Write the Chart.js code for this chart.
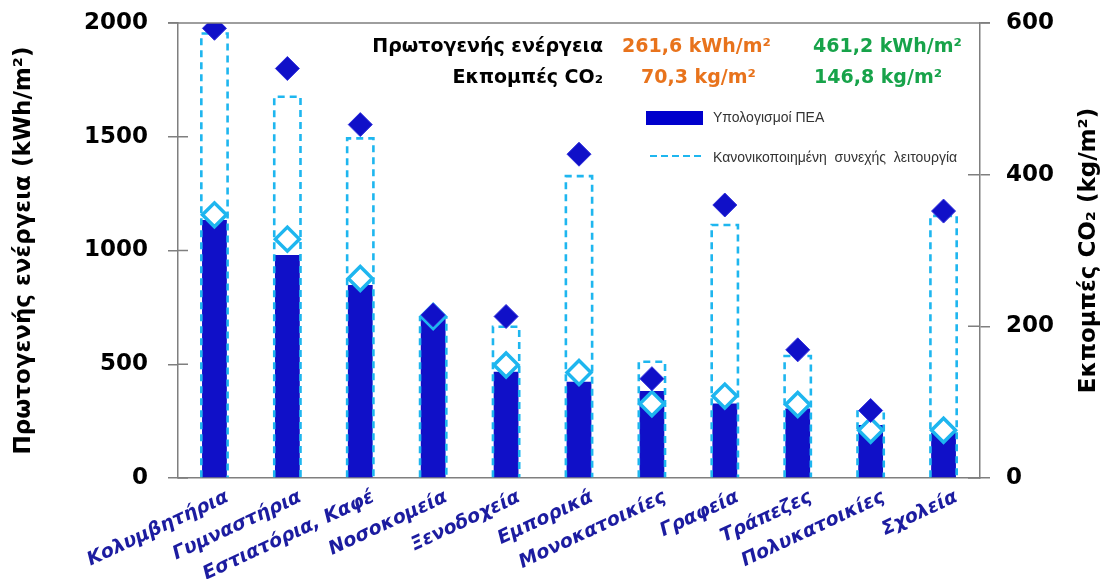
<!DOCTYPE html>
<html>
<head>
<meta charset="utf-8">
<script src="https://cdn.jsdelivr.net/npm/chart.js@4"></script>
<style>
  html, body { margin: 0; padding: 0; background: #fff; }
  #wrap { width: 1106px; height: 579px; }
</style>
</head>
<body>
<div id="wrap"><canvas id="energyChart"></canvas></div>
<script>
// building types
const categories = ['Κολυμβητήρια', 'Γυμναστήρια', 'Εστιατόρια, Καφέ', 'Νοσοκομεία', 'Ξενοδοχεία',
    'Εμπορικά', 'Μονοκατοικίες', 'Γραφεία', 'Τράπεζες', 'Πολυκατοικίες', 'Σχολεία'];

// primary energy, kWh/m2 (left axis)
const peaEnergy = [1134, 980, 848, 709, 467, 423, 382, 328, 306, 233, 199];
const normEnergy = [1954, 1676, 1493, 705, 665, 1327, 511, 1112, 536, 299, 1152];

// CO2 emissions, kg/m2 (right axis)
const peaCO2 = [347, 315, 263, 213, 149, 139, 98, 108, 97, 63, 63];
const normCO2 = [593, 540, 466, 215, 213, 427, 131, 360, 169, 89, 352];

const energyTicks = [0, 500, 1000, 1500, 2000];
const co2Ticks = [0, 200, 400, 600];

const DARK_BLUE = '#1010c8';
const LIGHT_BLUE = '#1eb6ef';
const AXIS_GREY = '#7f7f7f';
const TICK_FONT = { family: '"DejaVu Sans", Arial, sans-serif', size: 23, weight: 'bold' };

// dashed outline for the normalised bars, drawn on the bar elements Chart.js lays out
const dashedBars = {
    id: 'dashedBars',
    afterDatasetDraw(chart, args) {
        if (chart.data.datasets[args.index].dashed !== true) return;
        const ctx = chart.ctx;
        ctx.save();
        ctx.strokeStyle = LIGHT_BLUE;
        ctx.lineWidth = 2.6;
        ctx.setLineDash([7, 5]);
        args.meta.data.forEach(bar => {
            const half = bar.width / 2;
            ctx.beginPath();
            ctx.moveTo(bar.x - half, bar.base);
            ctx.lineTo(bar.x - half, bar.y);
            ctx.lineTo(bar.x + half, bar.y);
            ctx.lineTo(bar.x + half, bar.base);
            ctx.stroke();
        });
        ctx.restore();
    }
};

// frame, inner tick marks, right title, summary text and legend
const extras = {
    id: 'extras',
    afterDraw(chart) {
        const ctx = chart.ctx;
        const area = chart.chartArea;
        const yScale = chart.scales.y;
        const y1Scale = chart.scales.y1;
        ctx.save();

        ctx.strokeStyle = AXIS_GREY;
        ctx.lineWidth = 1.5;
        ctx.beginPath();
        ctx.moveTo(area.left - 10, area.top);
        ctx.lineTo(area.right + 10, area.top);
        energyTicks.forEach(v => {
            const py = yScale.getPixelForValue(v);
            ctx.moveTo(area.left, py);
            ctx.lineTo(area.left + 10, py);
        });
        co2Ticks.forEach(v => {
            const py = y1Scale.getPixelForValue(v);
            ctx.moveTo(area.right - 12, py);
            ctx.lineTo(area.right, py);
        });
        ctx.stroke();

        // right axis title, reading upwards
        ctx.fillStyle = '#000';
        ctx.font = 'bold 23px "DejaVu Sans", Arial, sans-serif';
        ctx.textAlign = 'center';
        ctx.textBaseline = 'middle';
        ctx.translate(1089, (area.top + area.bottom) / 2);
        ctx.rotate(-Math.PI / 2);
        ctx.fillText('Εκπομπές CO₂ (kg/m²)', 0, 0);
        ctx.setTransform(1, 0, 0, 1, 0, 0);

        // summary values
        ctx.font = 'bold 19px "DejaVu Sans", Arial, sans-serif';
        ctx.textBaseline = 'middle';
        ctx.textAlign = 'right';
        ctx.fillStyle = '#000';
        ctx.fillText('Πρωτογενής ενέργεια', 603, 47);
        ctx.fillText('Εκπομπές CO₂', 603, 78);
        ctx.textAlign = 'left';
        ctx.fillStyle = '#e8731c';
        ctx.fillText('261,6 kWh/m²', 622, 47);
        ctx.fillText('70,3 kg/m²', 641, 78);
        ctx.fillStyle = '#17a34a';
        ctx.fillText('461,2 kWh/m²', 813, 47);
        ctx.fillText('146,8 kg/m²', 814, 78);

        // legend
        ctx.fillStyle = '#0000cc';
        ctx.fillRect(646, 111, 57, 14);
        ctx.strokeStyle = LIGHT_BLUE;
        ctx.lineWidth = 2.2;
        ctx.setLineDash([7, 4]);
        ctx.beginPath();
        ctx.moveTo(650, 156);
        ctx.lineTo(703, 156);
        ctx.stroke();
        ctx.setLineDash([]);
        ctx.fillStyle = '#333';
        ctx.font = '14px "Liberation Sans Narrow", "Arial Narrow", Arial, sans-serif';
        ctx.fillText('Υπολογισμοί ΠΕΑ', 713, 118);
        ctx.fillText('Κανονικοποιημένη  συνεχής  λειτουργία', 713, 158);

        ctx.restore();
    }
};

new Chart(document.getElementById('energyChart'), {
    type: 'bar',
    data: {
        labels: categories,
        datasets: [
            {
                type: 'line', label: 'CO2 normalised', data: normCO2, yAxisID: 'y1', order: 1,
                showLine: false, pointStyle: 'rectRot', pointRadius: 12,
                pointBackgroundColor: DARK_BLUE, pointBorderColor: '#3030dc', pointBorderWidth: 1
            },
            {
                type: 'line', label: 'CO2 PEA', data: peaCO2, yAxisID: 'y1', order: 2,
                showLine: false, pointStyle: 'rectRot', pointRadius: 12,
                pointBackgroundColor: '#fff', pointBorderColor: LIGHT_BLUE, pointBorderWidth: 3.5
            },
            {
                label: 'Κανονικοποιημένη συνεχής λειτουργία', data: normEnergy, yAxisID: 'y', order: 3,
                dashed: true, backgroundColor: 'rgba(0,0,0,0)', borderWidth: 0,
                grouped: false, barPercentage: 0.36, categoryPercentage: 1
            },
            {
                label: 'Υπολογισμοί ΠΕΑ', data: peaEnergy, yAxisID: 'y', order: 4,
                backgroundColor: DARK_BLUE, borderWidth: 0,
                grouped: false, barPercentage: 0.34, categoryPercentage: 1
            }
        ]
    },
    options: {
        responsive: true,
        maintainAspectRatio: false,
        animation: false,
        layout: { padding: { top: 23, left: 0, right: 0, bottom: 0 } },
        plugins: { legend: { display: false }, tooltip: { enabled: false } },
        scales: {
            x: {
                grid: { display: false },
                border: { display: true, color: AXIS_GREY, width: 1.5 },
                ticks: {
                    color: '#1c1ca0', minRotation: 25, maxRotation: 25, padding: 0, labelOffset: 13,
                    font: { family: '"DejaVu Sans", Arial, sans-serif', size: 19, weight: 'bold', style: 'italic' }
                },
                afterFit(scale) {
                    scale.height = 101;
                    scale.paddingLeft = 0;
                    scale.paddingRight = 0;
                }
            },
            y: {
                position: 'left', min: 0, max: 2000,
                afterBuildTicks(scale) { scale.ticks = energyTicks.map(v => ({ value: v })); },
                grid: { drawOnChartArea: false, drawTicks: true, tickLength: 10, color: AXIS_GREY, lineWidth: 1.5 },
                border: { display: true, color: AXIS_GREY, width: 1.5 },
                ticks: { color: '#000', padding: 20, font: TICK_FONT, callback: v => String(v) },
                title: {
                    display: true, text: 'Πρωτογενής ενέργεια (kWh/m²)', color: '#000',
                    font: { family: '"DejaVu Sans", Arial, sans-serif', size: 23, weight: 'bold' },
                    padding: { top: 10, bottom: 0 }
                },
                afterFit(scale) {
                    scale.width = 178;
                    scale.paddingTop = 0;
                    scale.paddingBottom = 0;
                }
            },
            y1: {
                position: 'right', min: 0, max: 600,
                afterBuildTicks(scale) { scale.ticks = co2Ticks.map(v => ({ value: v })); },
                grid: { drawOnChartArea: false, drawTicks: true, tickLength: 10, color: AXIS_GREY, lineWidth: 1.5 },
                border: { display: true, color: AXIS_GREY, width: 1.5 },
                ticks: { color: '#000', padding: 16, font: TICK_FONT, callback: v => String(v) },
                afterFit(scale) {
                    scale.width = 126;
                    scale.paddingTop = 0;
                    scale.paddingBottom = 0;
                }
            }
        }
    },
    plugins: [dashedBars, extras]
});
</script>
</body>
</html>
